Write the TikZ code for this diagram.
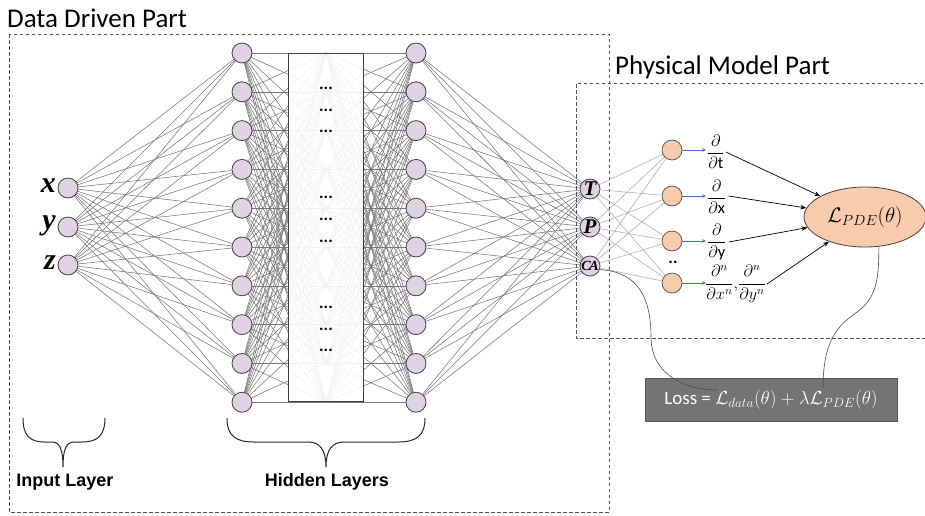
\RequirePackage{fix-cm}
\documentclass[tikz,border=0pt]{standalone}
\usepackage{amsmath}
\usepackage{fontspec}
\setmainfont{Carlito}
\newfontfamily\labelfont{Liberation Sans}
\newfontfamily\varfont{Liberation Serif}
\usetikzlibrary{shapes.geometric,arrows.meta,backgrounds,calc}

\definecolor{lilac}{RGB}{225,209,228}
\definecolor{peach}{RGB}{248,203,173}
\definecolor{frame}{RGB}{68,84,106}
\definecolor{lossgray}{RGB}{116,116,116}
\definecolor{wirecol}{RGB}{120,120,120}
\definecolor{pwirecol}{RGB}{165,165,165}
\definecolor{derivblue}{RGB}{68,114,196}

\begin{document}
\begin{tikzpicture}[x=1pt,y=-1pt,
  neuron/.style={circle,draw=black!75,fill=lilac,line width=0.8pt,minimum size=20pt,inner sep=0pt},
  pnode/.style={circle,draw=black!70,fill=peach,line width=0.7pt,minimum size=20pt,inner sep=0pt},
  wire/.style={draw=wirecol,line width=0.55pt},
  pwire/.style={draw=pwirecol,line width=0.5pt},
  framebox/.style={draw=frame,dash pattern=on 3.5pt off 2.5pt,line width=0.8pt},
  title/.style={font=\fontsize{27}{30}\selectfont,anchor=base west,inner sep=0pt},
  layerlabel/.style={font=\labelfont\bfseries\fontsize{18}{20}\selectfont},
  varlabel/.style={font=\varfont\bfseries\itshape\fontsize{30}{32}\selectfont,anchor=east,inner sep=0pt},
  outlabel/.style={font=\varfont\bfseries\itshape\fontsize{21}{21}\selectfont},
  ellipsis/.style={font=\bfseries\fontsize{17}{17}\selectfont,inner sep=0pt},
  deriv/.style={font=\fontsize{16.5}{18}\selectfont,anchor=west,inner sep=0pt},
  bluearrow/.style={draw=derivblue,line width=0.8pt,-{Stealth[length=4pt,width=3.5pt]}},
  pdearrow/.style={draw=black,line width=0.7pt,-{Stealth[length=6pt,width=4.5pt]}},
  bracepath/.style={draw=black!85,line width=1pt},
  lossline/.style={draw=black!70,line width=0.6pt}
]
\useasboundingbox (0,0) rectangle (925,515);

% section frames and titles
\draw[framebox] (9,34) rectangle (609,512);
\draw[framebox] (935,83) -- (576,83) -- (576,338) -- (935,338);
\node[title] (tdata) at (7,27) {Data Driven Part};
\node[title] (tphys) at (615,74) {Physical Model Part};

% input layer
\node[neuron] (in1) at (68,188) {};
\node[neuron] (in2) at (68,227) {};
\node[neuron] (in3) at (68,265) {};
\node[varlabel] (lx) at (56,186) {x};
\node[varlabel] (ly) at (56,226) {y};
\node[varlabel] (lz) at (56,263) {z};

% hidden layers (outer visible columns) and hidden middle column
\foreach \i in {1,...,10} {
  \pgfmathsetmacro{\yy}{53+38.8*(\i-1)}
  \node[neuron] (ha\i) at (242,\yy) {};
  \node[neuron] (hb\i) at (416,\yy) {};
  \coordinate (hm\i) at (326,\yy);
}

% output layer
\node[neuron,outlabel] (oT) at (590,189) {T};
\node[neuron,outlabel] (oP) at (590,227) {P};
\node[neuron,outlabel,font=\varfont\bfseries\itshape\fontsize{14}{14}\selectfont] (oC) at (590,266) {C\kern-1.5pt A};

% derivative neurons
\node[pnode] (d1) at (672,150) {};
\node[pnode] (d2) at (672,196) {};
\node[pnode] (d3) at (672,241) {};
\node[pnode] (d4) at (672,283) {};
\node[font=\bfseries\fontsize{17}{17}\selectfont,inner sep=0pt] (ddots) at (673,262) {..};

% derivative operators
\coordinate (a1) at (706,150);
\coordinate (a2) at (706,196);
\coordinate (a3) at (706,241);
\coordinate (a4) at (706,283);
\node[deriv] (f1) at (707,152) {$\dfrac{\partial}{\partial\text{t}}$};
\node[deriv] (f2) at (707,197) {$\dfrac{\partial}{\partial\text{x}}$};
\node[deriv] (f3) at (707,242) {$\dfrac{\partial}{\partial\text{y}}$};
\node[deriv] (f4) at (705,284) {$\dfrac{\partial^n}{\partial x^n},\!\dfrac{\partial^n}{\partial y^n}$};

% PDE loss
\node[ellipse,draw=black!75,fill=peach,line width=0.8pt,minimum width=122pt,minimum height=60pt,inner sep=0pt,
      font=\fontsize{21}{21}\selectfont] (L) at (865,217) {$\mathcal{L}_{PDE}(\theta)$};

% total loss
\node[draw=black!65,fill=lossgray,line width=0.8pt,minimum width=252pt,minimum height=43pt,inner sep=0pt,
      text=white,font=\fontsize{19}{19}\selectfont] (loss) at (771,399.5)
      {Loss = $\mathcal{L}_{data}(\theta)+\lambda\mathcal{L}_{PDE}(\theta)$};
\coordinate (lossA) at (717,390);
\coordinate (lossB) at (823,388);

% dots inside the hidden block
\foreach \k/\yy in {1/88,2/110,3/131,4/197,5/219,6/241,7/307,8/329,9/350}
  \node[ellipsis] (e\k) at (326,\yy) {...};

\begin{pgfonlayer}{background}
  % input -> first hidden
  \foreach \i in {1,2,3}
    \foreach \j in {1,...,10}
      \draw[wire] (in\i) -- (ha\j);
  % first hidden -> middle -> last hidden
  \foreach \i in {1,...,10}
    \foreach \j in {1,...,10} {
      \draw[wire] (ha\i) -- (hm\j);
      \draw[wire] (hm\i) -- (hb\j);
    }
  % hidden block covering the inner layers
  \draw[draw=black!75,line width=1pt,fill=white,fill opacity=0.9] (288,53) rectangle (363,401);
  % last hidden -> outputs
  \foreach \i in {1,...,10}
    \foreach \o in {oT,oP,oC}
      \draw[wire] (hb\i) -- (\o);
  % outputs -> derivative neurons
  \foreach \o in {oT,oP,oC}
    \foreach \j in {1,...,4}
      \draw[pwire] (\o) -- (d\j);
\end{pgfonlayer}

% derivative arrows
\foreach \j in {1,...,4}
  \draw[bluearrow] (d\j) -- (a\j);
\draw[pdearrow] ($(f1.east)+(1,0)$) -- (L);
\draw[pdearrow] ($(f2.east)+(2,-1)$) -- (L);
\draw[pdearrow] ($(f3.east)+(2,0)$) -- (L);
\draw[pdearrow] ($(f4.east)+(1,0)$) -- (L);

% connections into the total loss
\draw[lossline] (oC.-20) .. controls (640,272) and (651,300) .. (651,338)
                .. controls (652,378) and (690,390) .. (lossA);
\draw[lossline] (L.295) .. controls (879,285) and (875,300) .. (853,315)
                .. controls (835,328) and (823,345) .. (lossB);

% braces
\draw[bracepath] (23,418) .. controls (23,436) and (30,442) .. (45,442) -- (52,442)
  .. controls (60,442) and (63,450) .. (63,467)
  .. controls (63,450) and (66,442) .. (74,442) -- (82,442)
  .. controls (97,442) and (105,436) .. (105,418);
\draw[bracepath] (227,418) .. controls (227,436) and (236,442) .. (254,442) -- (308,442)
  .. controls (320,442) and (326,450) .. (326,467)
  .. controls (326,450) and (332,442) .. (344,442) -- (398,442)
  .. controls (416,442) and (425,436) .. (425,418);
\node[layerlabel] (linput) at (65,482) {Input Layer};
\node[layerlabel] (lhidden) at (327,482) {Hidden Layers};
\end{tikzpicture}
\end{document}
